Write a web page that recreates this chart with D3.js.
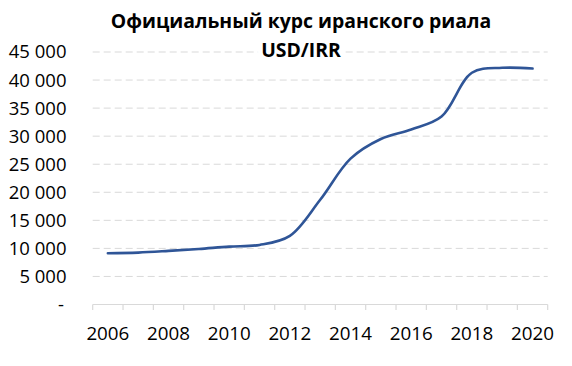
<!DOCTYPE html>
<html><head><meta charset="utf-8">
<script src="https://cdn.jsdelivr.net/npm/d3@7"></script>
<style>
body{margin:0;background:#fff;}
svg{display:block;font-family:"Open Sans",sans-serif;}
</style></head>
<body><svg id="c" width="572" height="366"></svg>
<script>
const years = [2006,2007,2008,2009,2010,2011,2012,2013,2014,2015,2016,2017,2018,2019,2020];
const rates = [9140,9250,9550,9900,10320,10620,12230,18660,26000,29500,31200,33500,41300,42180,42050];
const yTicks = [0,5000,10000,15000,20000,25000,30000,35000,40000,45000];
const xLabels = [2006,2008,2010,2012,2014,2016,2018,2020];
const titleLines = ["Официальный курс иранского риала","USD/IRR"];

const svg = d3.select("#c");
const L = 92.7, R = 547.7, T = 52, B = 304.5;
const x = d3.scaleBand().domain(years).range([L,R]);
const y = d3.scaleLinear().domain([0,45000]).range([B,T]);
const fmt = v => v === 0 ? "-" : d3.format(",")(v).replace(/,/g," ");

// gridlines
svg.append("g").selectAll("line").data(yTicks.filter(d=>d>0)).join("line")
  .attr("x1",L).attr("x2",R).attr("y1",d=>y(d)).attr("y2",d=>y(d))
  .attr("stroke","#d9d9d9").attr("stroke-width",1).attr("stroke-dasharray","7,4");

// y labels
svg.append("g").selectAll("text").data(yTicks).join("text")
  .attr("x",d=>d===0?64:66.5).attr("y",d=>y(d)).attr("dy","0.35em")
  .attr("text-anchor","end").attr("font-size","18.5px").attr("fill","#000")
  .text(fmt);

// x axis
const xa = svg.append("g");
xa.append("line").attr("x1",L).attr("x2",R).attr("y1",B).attr("y2",B)
  .attr("stroke","#d9d9d9").attr("stroke-width",1.2);
const tickPos = years.map(d=>x(d)).concat([x(years[years.length-1])+x.bandwidth()]);
xa.selectAll("line.t").data(tickPos).join("line").attr("class","t")
  .attr("x1",d=>d).attr("x2",d=>d).attr("y1",B).attr("y2",B+5.5)
  .attr("stroke","#d9d9d9").attr("stroke-width",1.2);
xa.selectAll("text").data(xLabels).join("text")
  .attr("x",d=>x(d)+x.bandwidth()/2).attr("y",340)
  .attr("text-anchor","middle").attr("font-size","18.8px").attr("fill","#000")
  .text(d=>d);

// line
const line = d3.line().x((d,i)=>x(years[i])+x.bandwidth()/2).y(d=>y(d)).curve(d3.curveCatmullRom.alpha(0.5));
svg.append("path").datum(rates).attr("d",line)
  .attr("fill","none").attr("stroke","#2F5597").attr("stroke-width",2.6).attr("stroke-linecap","round");

// title
svg.append("g").selectAll("text").data(titleLines).join("text")
  .attr("x",301).attr("y",(d,i)=>28+i*29)
  .attr("text-anchor","middle").attr("font-size","19.4px").attr("font-weight","bold").attr("fill","#000")
  .attr("stroke","#fff").attr("stroke-width",(d,i)=>i===1?10:0).attr("paint-order","stroke")
  .text(d=>d);
</script></body></html>
